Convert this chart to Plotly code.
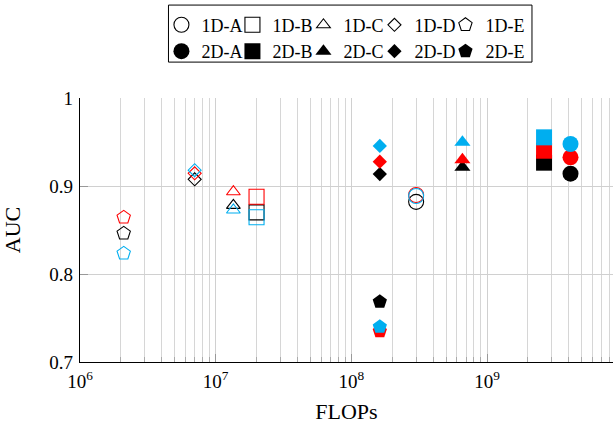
import plotly.graph_objects as go

# ---- data ----
series = ["1D-A", "1D-B", "1D-C", "1D-D", "1D-E",
          "2D-A", "2D-B", "2D-C", "2D-D", "2D-E"]
groups = ["A", "B", "C", "D", "E", "A", "B", "C", "D", "E"]
flops = [3.0e8, 2.0e7, 1.35e7, 7.0e6, 2.1e6,
         4.12e9, 2.63e9, 6.58e8, 1.62e8, 1.62e8]
auc_black = [0.882, 0.870, 0.878, 0.9076, 0.8462,
             0.914, 0.9265, 0.9214, 0.9136, 0.7685]
auc_red = [0.8898, 0.8877, 0.8935, 0.9144, 0.8644,
           0.9326, 0.9401, 0.9297, 0.9276, 0.735]
auc_blue = [0.8886, 0.8645, 0.8727, 0.918, 0.8235,
            0.9477, 0.9553, 0.9498, 0.9455, 0.740]

x_tickvals = [1e6, 1e7, 1e8, 1e9]
x_ticktext = ["10<sup>6</sup>", "10<sup>7</sup>", "10<sup>8</sup>", "10<sup>9</sup>"]
y_tickvals = [0.7, 0.8, 0.9, 1.0]
y_ticktext = ["0.7", "0.8", "0.9", "1"]

# ---- styles ----
colors = ["#000000", "#FF0000", "#00AEEF"]
symbols = {"A": "circle", "B": "square", "C": "triangle-up", "D": "diamond", "E": "pentagon"}
size_1d = {"A": 15, "B": 15, "C": 12, "D": 10, "E": 14}
size_2d = {"A": 16, "B": 16, "C": 14, "D": 11, "E": 15}
FONT = "Liberation Serif"

fig = go.Figure()
for name, grp, fx, b, r, c in zip(series, groups, flops, auc_black, auc_red, auc_blue):
    is1d = name.startswith("1D")
    sym = symbols[grp] + ("-open" if is1d else "")
    fig.add_trace(go.Scatter(
        x=[fx, fx, fx], y=[b, r, c], mode="markers", name=name,
        legendgroup=grp,
        marker=dict(symbol=sym, color=colors,
                    size=size_1d[grp] if is1d else size_2d[grp],
                    line=dict(width=1.1 if is1d else 0, color=colors)),
    ))

# empty spacer column so the last legend column is not clipped
fig.add_trace(go.Scatter(x=[None], y=[None], mode="markers", name=" ",
                         legendgroup="zz", hoverinfo="skip",
                         marker=dict(color="rgba(0,0,0,0)", size=1)))

# legend frame
fig.add_shape(type="rect", xref="paper", yref="paper",
              x0=0.1660, x1=0.8480, y0=1.136, y1=1.352,
              line=dict(color="black", width=1), fillcolor="rgba(0,0,0,0)",
              layer="above")

fig.update_layout(
    width=613, height=424,
    margin=dict(l=80, r=0, t=98, b=62, autoexpand=False),
    paper_bgcolor="white", plot_bgcolor="white",
    font=dict(family=FONT, size=18, color="black"),
    showlegend=True,
    legend=dict(orientation="h", traceorder="grouped", x=0.1528, xanchor="left",
                y=1.3463, yanchor="top", borderwidth=0,
                bgcolor="rgba(0,0,0,0)", font=dict(size=18), tracegroupgap=0,
                itemwidth=30, entrywidth=26),
    xaxis=dict(type="log", range=[6, 9.928], showline=True, linecolor="black", linewidth=1.3,
               tickmode="array", tickvals=x_tickvals, ticktext=x_ticktext,
               ticks="inside", ticklen=8, tickcolor="#999", tickwidth=1,
               tickfont=dict(size=19), automargin=True,
               showgrid=True, gridcolor="#d0d0d0", gridwidth=1, zeroline=False,
               minor=dict(dtick="D1", ticks="inside", ticklen=5, tickcolor="#aaa",
                          showgrid=True, gridcolor="#d6d6d6", gridwidth=1),
               title=dict(text="FLOPs", standoff=12), ticklabelstandoff=2),
    yaxis=dict(range=[0.7, 1.0], showline=True, linecolor="black", linewidth=1.3,
               tickmode="array", tickvals=y_tickvals, ticktext=y_ticktext,
               ticks="inside", ticklen=8, tickcolor="#999", tickwidth=1,
               tickfont=dict(size=19), automargin=False,
               showgrid=True, gridcolor="#d0d0d0", gridwidth=1, zeroline=False,
               title=dict(text="AUC", standoff=30), ticklabelstandoff=2),
)

fig.write_html("out.html", config={"displayModeBar": False},
               post_script="document.body.style.margin='0';")
